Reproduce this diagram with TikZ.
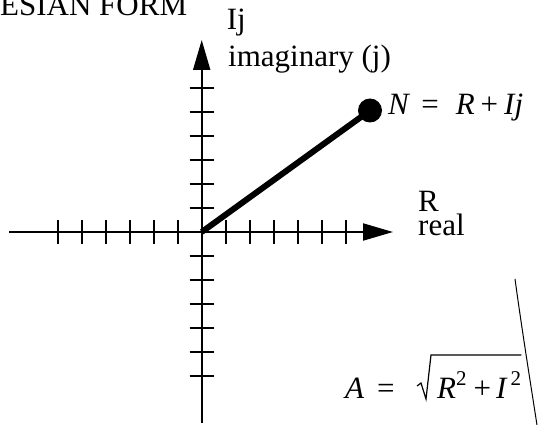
\documentclass[tikz,border=0pt]{standalone}
\usepackage{fontspec}
\setmainfont{Liberation Serif}
\usetikzlibrary{arrows.meta}

\newcommand{\sqr}{\raisebox{13pt}{\fontsize{21}{21}\selectfont 2}}

\begin{document}
\begin{tikzpicture}[x=1pt,y=-1pt,font=\fontsize{31}{31}\selectfont,>={Triangle[length=30pt,width=17pt]}]
  \tikzset{
    axis/.style={line width=2pt},
    tick/.style={line width=2pt},
    vector/.style={line width=6pt},
    dot/.style={circle,fill=black,inner sep=0pt,minimum size=24pt},
    label/.style={inner sep=0pt,anchor=base west}
  }
  \useasboundingbox (0,0) rectangle (539,425);

  \coordinate (origin) at (201.7,232);
  \coordinate (realL) at (9,232);
  \coordinate (realR) at (393,232);
  \coordinate (imagB) at (201.7,423);
  \coordinate (imagT) at (201.7,40);
  \coordinate (ptN) at (370,110.5);
  \coordinate (radTop) at (431,355);
  \coordinate (arcTop) at (515,279);
  \coordinate (arcBot) at (537,425);

  % axes with ticks every 24pt
  \draw[axis,->] (realL) -- (realR);
  \draw[axis,->] (imagB) -- (imagT);
  \foreach \k in {-6,...,-1,1,2,...,6} {
    \draw[tick] (201.7+24*\k,220) -- (201.7+24*\k,244);
    \draw[tick] (189.7,232+24*\k) -- (213.7,232+24*\k);
  }

  % the vector N
  \draw[vector] (origin) -- (ptN);
  \node[dot] (dotN) at (ptN) {};

  \node[label] (title) at (0,16) {ESIAN FORM};
  \node[label] (imagSym) at (226.7,30) {Ij};
  \node[label] (imagName) at (228,66.7) {imaginary (j)};
  \node[label] (eqN) at (388,115) {\textit{N}\hspace{11pt}=\hspace{17pt}\textit{R}\hspace{6pt}+\hspace{6pt}\textit{Ij}};
  \node[label] (realSym) at (418,212) {R};
  \node[label] (realName) at (418,236) {real};

  % modulus A with a drawn root sign
  \node[label] (eqA) at (345,398) {\textit{A}\hspace{13pt}=};
  \node[label] (rootArg) at (437,398) {\textit{R}\sqr\hspace{7pt}+\hspace{5pt}\textit{I}\hspace{3pt}\sqr};
  \draw[line width=1.2pt] (417,386) -- (421,383) -- (426,399) -- (radTop) -- (rootArg.east |- radTop);

  \draw[line width=1pt] (arcTop) .. controls (522,330) and (530,380) .. (arcBot);
\end{tikzpicture}
\end{document}
